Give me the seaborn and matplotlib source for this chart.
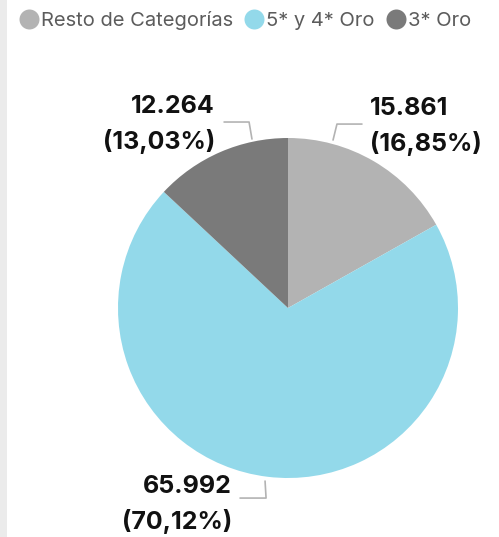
import matplotlib
matplotlib.use("Agg")
import matplotlib.pyplot as plt
from matplotlib.lines import Line2D
from matplotlib.patches import Rectangle
import seaborn as sns

# Data
categories = ["Resto de Categorías", "5* y 4* Oro", "3* Oro"]
values = [15861, 65992, 12264]
value_labels = ["15.861", "65.992", "12.264"]
pct_labels = ["16,85%", "70,12%", "13,03%"]
colors = ["#b3b3b3", "#93d9ea", "#7a7a7a"]

sns.set_theme(style="white")
plt.rcParams['font.family'] = ['Inter', 'DejaVu Sans']

fig = plt.figure(figsize=(4.99, 5.37), dpi=100)
fig.patch.set_facecolor("white")
# light grey strip on the left edge
fig.patches.append(Rectangle((0, 0), 7 / 499, 1, transform=fig.transFigure,
                             facecolor="#ebebeb", edgecolor="none", zorder=0))

# pie centred at (288, 308) px, radius 170 px
ax = fig.add_axes([(288 - 170) / 499, (537 - 308 - 170) / 537, 340 / 499, 340 / 537])
palette = sns.color_palette(colors)
wedges, _ = ax.pie(values, colors=palette, startangle=90, counterclock=False,
                   radius=1, wedgeprops=dict(linewidth=0))
ax.set_xlim(-1, 1)
ax.set_ylim(-1, 1)
ax.set_aspect("equal")
ax.axis("off")

# label placement: (leader polyline, text anchor, alignment)
placements = [
    ([(0.265, 0.988), (0.288, 1.082), (0.435, 1.082)], (0.48, 1.07), "left"),
    ([(-0.135, -1.018), (-0.129, -1.118), (-0.282, -1.118)], (-0.33, -1.155), "right"),
    ([(-0.212, 0.994), (-0.229, 1.094), (-0.376, 1.094)], (-0.43, 1.08), "right"),
]
for i, (pts, (tx, ty), ha) in enumerate(placements):
    xs, ys = zip(*pts)
    ax.plot(xs, ys, color="#b3b3b3", lw=1.2, clip_on=False)
    ax.text(tx, ty, f"{value_labels[i]}\n({pct_labels[i]})", ha=ha, va="center",
            multialignment=ha, fontsize=18, fontweight="bold", color="#111111",
            linespacing=1.55)

handles = [Line2D([], [], marker="o", linestyle="none", markersize=14.4,
                  markerfacecolor=c, markeredgecolor="none") for c in palette]
fig.legend(handles, categories, loc="center left", bbox_to_anchor=(19 / 499, 1 - 21 / 537),
           ncol=3, frameon=False, fontsize=14.5, labelcolor="#5c5c5c",
           handlelength=0.95, handletextpad=0.12, columnspacing=0.6, borderpad=0,
           borderaxespad=0)

fig.savefig("out.png", dpi=100)
